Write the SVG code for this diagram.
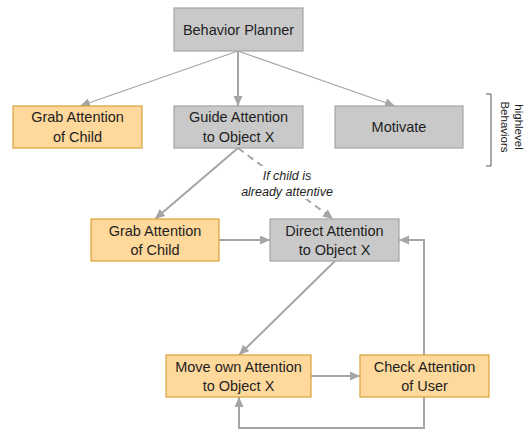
<svg xmlns="http://www.w3.org/2000/svg" width="527" height="430" viewBox="0 0 527 430">
<style>
.g{fill:#c9c9c9;stroke:#a5a5a5;stroke-width:1.2}
.o{fill:#ffd89c;stroke:#d8a33a;stroke-width:1.2}
.t{font-family:"Liberation Sans",Arial,sans-serif;font-size:14.5px;fill:#1e1e1e;text-anchor:middle}
.c{fill:none;stroke:#a5a5a5;stroke-width:2}
.th{stroke-width:1.2}
.d{stroke-dasharray:7,5}
.lb{font-family:"Liberation Sans",Arial,sans-serif;font-size:12.5px;font-style:italic;fill:#1e1e1e;text-anchor:middle}
.br{font-family:"Liberation Sans",Arial,sans-serif;font-size:11.5px;fill:#1e1e1e;text-anchor:middle}
</style>
<defs>
<marker id="ah" markerUnits="userSpaceOnUse" markerWidth="11" markerHeight="10" refX="10" refY="4.5" orient="auto">
<path d="M0,0 L10,4.5 L0,9 z" fill="#a5a5a5"/>
</marker>
</defs>
<rect width="527" height="430" fill="#fff"/>
<g id="connectors">
<line class="c th" x1="238" y1="51" x2="80" y2="106" marker-end="url(#ah)"/>
<line class="c" x1="238" y1="51" x2="238" y2="106" marker-end="url(#ah)"/>
<line class="c th" x1="238" y1="51" x2="395" y2="106" marker-end="url(#ah)"/>
<line class="c" x1="238" y1="148" x2="155" y2="219" marker-end="url(#ah)"/>
<line class="c d" x1="238" y1="148" x2="333" y2="219" marker-end="url(#ah)"/>
<line class="c" x1="219" y1="240" x2="270" y2="240" marker-end="url(#ah)"/>
<line class="c" x1="335" y1="261" x2="239" y2="355" marker-end="url(#ah)"/>
<line class="c" x1="311" y1="376" x2="360" y2="376" marker-end="url(#ah)"/>
<path class="c" d="M424,355 V240 H399" marker-end="url(#ah)"/>
<path class="c" d="M424,397 V428 H239 V397" marker-end="url(#ah)"/>
</g>
<g id="label-attentive">
<rect x="240" y="166" width="95" height="33" fill="#fff"/>
<text class="lb" x="287" y="180">If child is</text>
<text class="lb" x="287" y="196">already attentive</text>
</g>
<g id="behavior-planner">
<rect class="g" x="174" y="8" width="129" height="43"/>
<text class="t" x="238.5" y="35">Behavior Planner</text>
</g>
<g id="grab-attention-top">
<rect class="o" x="13" y="106" width="129" height="42"/>
<text class="t" x="77.5" y="122">Grab Attention</text>
<text class="t" x="77.5" y="142">of Child</text>
</g>
<g id="guide-attention">
<rect class="g" x="174" y="106" width="129" height="42"/>
<text class="t" x="238.5" y="122">Guide Attention</text>
<text class="t" x="238.5" y="142">to Object X</text>
</g>
<g id="motivate">
<rect class="g" x="335" y="106" width="128" height="42"/>
<text class="t" x="399" y="132">Motivate</text>
</g>
<g id="highlevel-bracket">
<path d="M486,94 H491 V166 H486" fill="none" stroke="#555" stroke-width="1"/>
<text class="br" transform="translate(515,127) rotate(90)">highlevel</text>
<text class="br" transform="translate(501,127) rotate(90)">Behaviors</text>
</g>
<g id="grab-attention">
<rect class="o" x="91" y="219" width="128" height="42"/>
<text class="t" x="155" y="236">Grab Attention</text>
<text class="t" x="155" y="255">of Child</text>
</g>
<g id="direct-attention">
<rect class="g" x="270" y="219" width="129" height="42"/>
<text class="t" x="334.5" y="236">Direct Attention</text>
<text class="t" x="334.5" y="255">to Object X</text>
</g>
<g id="move-attention">
<rect class="o" x="166" y="355" width="145" height="42"/>
<text class="t" x="238.5" y="372">Move own Attention</text>
<text class="t" x="238.5" y="391">to Object X</text>
</g>
<g id="check-attention">
<rect class="o" x="360" y="355" width="129" height="42"/>
<text class="t" x="424.5" y="372">Check Attention</text>
<text class="t" x="424.5" y="391">of User</text>
</g>
</svg>
